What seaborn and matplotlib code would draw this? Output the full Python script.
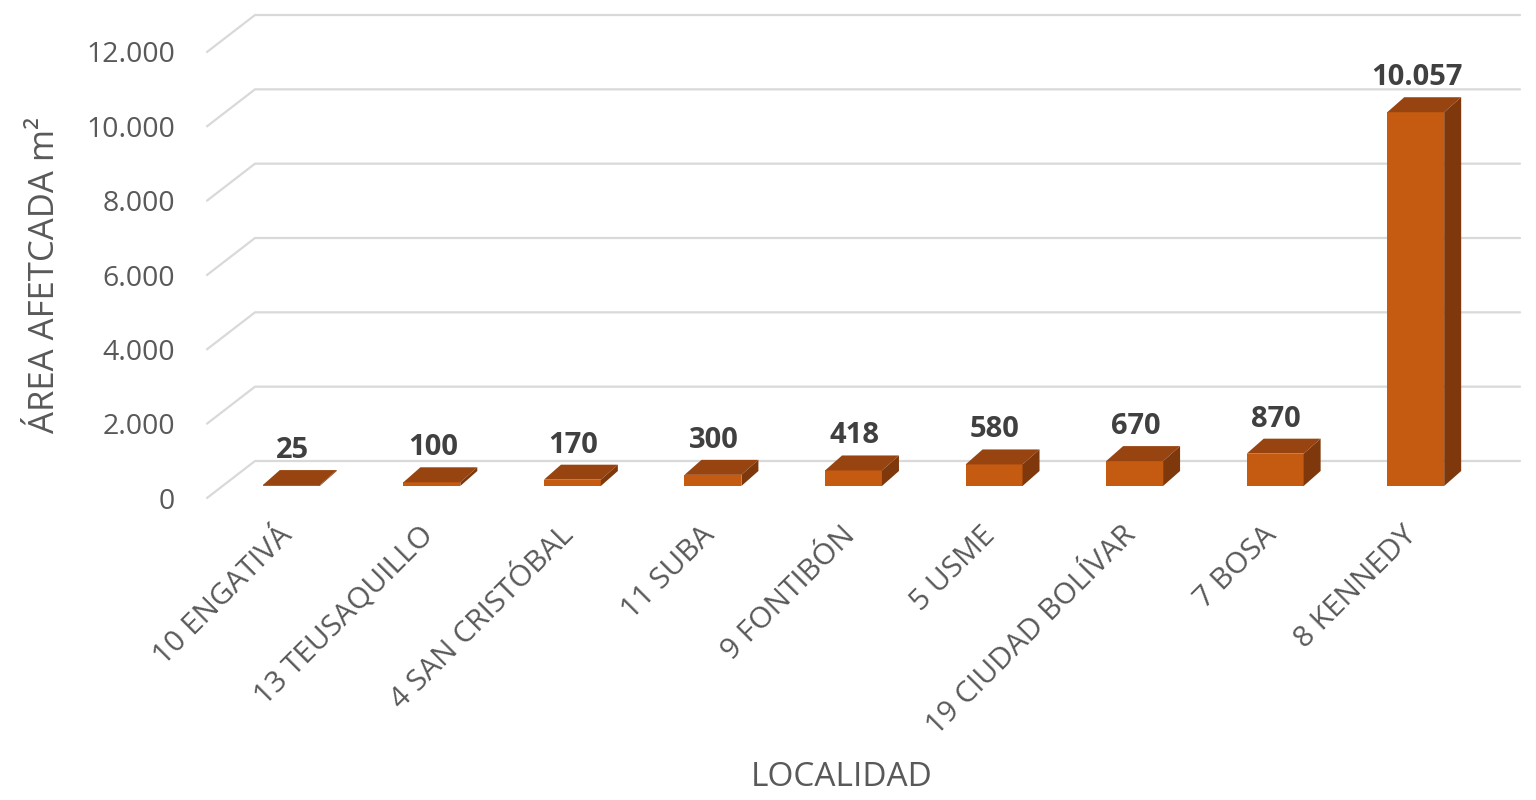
import matplotlib.pyplot as plt
import seaborn as sns
import pandas as pd
from matplotlib.transforms import ScaledTranslation, IdentityTransform
from matplotlib.patches import Polygon
from matplotlib.lines import Line2D

# Data
localidades = ['10 ENGATIVÁ', '13 TEUSAQUILLO', '4 SAN CRISTÓBAL', '11 SUBA',
               '9 FONTIBÓN', '5 USME', '19 CIUDAD BOLÍVAR', '7 BOSA', '8 KENNEDY']
area = [25, 100, 170, 300, 418, 580, 670, 870, 10057]
value_labels = ['25', '100', '170', '300', '418', '580', '670', '870', '10.057']
y_ticks = [0, 2000, 4000, 6000, 8000, 10000, 12000]
y_tick_labels = ['0', '2.000', '4.000', '6.000', '8.000', '10.000', '12.000']

df = pd.DataFrame({'Localidad': localidades, 'Area': area})

# colours of the three faces of each column
FRONT = '#C55A11'
TOP = '#984410'
SIDE = '#7E380C'
GRID = '#D9D9D9'

sns.set_theme(style='white')
plt.rcParams['font.family'] = ['Open Sans', 'DejaVu Sans']

W, H = 1536, 800
fig = plt.figure(figsize=(W / 100, H / 100), dpi=100)
# front edge of the floor, in pixels
left, right, top, bottom = 207, 1472, 52, 498
ax = fig.add_axes([left / W, 1 - bottom / H, (right - left) / W, (bottom - top) / H])

sns.barplot(data=df, x='Localidad', y='Area', color=FRONT, saturation=1,
            width=0.405, ax=ax, zorder=2)
ax.set_xlim(-0.5, len(localidades) - 0.5)
ax.set_ylim(0, 12000)

# pseudo 3D offsets (pixels): wall depth and column depth
wall_dx, wall_dy = 48, 37
bar_dx, bar_dy = 14, 12
depth_dx, depth_dy = 17, 15

# gridlines on the back wall with a slanted floor/side segment
for v in y_ticks:
    x0, y0 = ax.transData.transform((-0.5, v))
    x2, _ = ax.transData.transform((len(localidades) - 0.5, v))
    line = Line2D([x0, x0 + wall_dx, x2 + wall_dx], [y0, y0 + wall_dy, y0 + wall_dy],
                  transform=IdentityTransform(), color=GRID, lw=1.6, zorder=0.5,
                  clip_on=False)
    ax.add_artist(line)

offset = ScaledTranslation(bar_dx / 100, bar_dy / 100, fig.dpi_scale_trans)
for p, lab in zip(ax.patches, value_labels):
    p.set_transform(ax.transData + offset)
    p.set_clip_on(False)
    p.set_edgecolor('none')
    (xl, yb) = ax.transData.transform((p.get_x(), p.get_y()))
    (xr, yt) = ax.transData.transform((p.get_x() + p.get_width(), p.get_y() + p.get_height()))
    xl, xr, yb, yt = xl + bar_dx, xr + bar_dx, yb + bar_dy, yt + bar_dy
    top_face = Polygon([(xl, yt), (xr, yt), (xr + depth_dx, yt + depth_dy),
                        (xl + depth_dx, yt + depth_dy)], closed=True,
                       transform=IdentityTransform(), facecolor=TOP,
                       edgecolor='none', zorder=2, clip_on=False)
    side_face = Polygon([(xr, yb), (xr + depth_dx, yb + depth_dy),
                         (xr + depth_dx, yt + depth_dy), (xr, yt)], closed=True,
                        transform=IdentityTransform(), facecolor=SIDE,
                        edgecolor='none', zorder=2, clip_on=False)
    ax.add_patch(top_face)
    ax.add_patch(side_face)
    ax.text((xl + xr) / 2 + 1, yt + depth_dy + 12, lab, transform=IdentityTransform(),
            ha='center', va='baseline', fontsize=21, fontweight='bold',
            color='#404040', clip_on=False)

# category labels, rotated under each column
for i, name in enumerate(localidades):
    cx, _ = ax.transData.transform((i, 0))
    ax.text(cx + bar_dx - 3, H - 531, name, transform=IdentityTransform(),
            rotation=45, rotation_mode='anchor', ha='right', va='center',
            fontsize=21.5, color='#595959', clip_on=False)

ax.set_xticks([])
ax.set_yticks(y_ticks, y_tick_labels)
ax.tick_params(axis='y', length=0, pad=23, labelsize=20.5, labelcolor='#595959')
ax.set_xlabel('')
ax.set_ylabel('')
for s in ax.spines.values():
    s.set_visible(False)
ax.patch.set_alpha(0)

fig.text(45 / W, 1 - 275 / H, 'ÁREA AFETCADA m²', rotation=90, ha='center',
         va='center', fontsize=25, color='#595959')
fig.text(842 / W, 1 - 778 / H, 'LOCALIDAD', ha='center', va='center',
         fontsize=24, color='#595959')

fig.savefig('out.png', dpi=100, facecolor='white')
